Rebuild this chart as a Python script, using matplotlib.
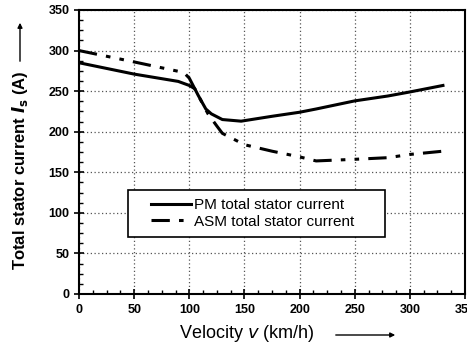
import matplotlib
matplotlib.use("Agg")
from matplotlib import pyplot as plt
from matplotlib.ticker import MultipleLocator
from matplotlib.patches import FancyArrowPatch, Rectangle

plt.rcParams['font.family'] = ['Liberation Sans', 'DejaVu Sans']

# PM motor, total stator current vs speed
pm_v = [0, 50, 90, 100, 105, 108, 115, 120, 130, 147, 175, 200, 215, 250, 280, 300, 330]
pm_i = [285, 271, 262, 257, 253, 245, 228, 222, 215, 213, 219, 224, 228, 238, 244, 249, 257]

# asynchronous motor
asm_v = [0, 50, 95, 100, 108, 117, 125, 130, 150, 175, 200, 215, 250, 280, 300, 330]
asm_i = [300, 286, 273, 266, 245, 222, 207, 198, 184, 176, 169, 164, 166, 168, 172, 176]

fig = plt.figure(figsize=(4.67, 3.48), dpi=100)
ax = fig.add_axes([79/467, 1 - 294/348, 386/467, 284/348])

ax.plot(pm_v, pm_i, color='black', lw=2.2, label='PM total stator current')
ax.plot(asm_v, asm_i, color='black', lw=2.2, dashes=(6, 3, 1.5, 3, 1.5, 3),
        label='ASM total stator current')

ax.set_xlim(0, 350)
ax.set_ylim(0, 350)
ax.xaxis.set_major_locator(MultipleLocator(50))
ax.yaxis.set_major_locator(MultipleLocator(50))
ax.xaxis.set_minor_locator(MultipleLocator(12.5))
ax.yaxis.set_minor_locator(MultipleLocator(12.5))
ax.tick_params(which='major', direction='inout', length=7, width=1.2, labelsize=9)
ax.tick_params(which='minor', direction='in', length=3, width=1)
for lab in ax.get_xticklabels() + ax.get_yticklabels():
    lab.set_fontweight('bold')
ax.grid(True, which='major', ls=(0, (1, 2)), color='#555555', lw=0.9)
for s in ax.spines.values():
    s.set_linewidth(1.5)

# legend box drawn by hand, entries placed inside it
ax.add_patch(Rectangle((0.127, 0.2), 0.666, 0.166, transform=ax.transAxes,
                       facecolor='white', edgecolor='black', lw=1.2, zorder=3))
leg = ax.legend(loc='center left', bbox_to_anchor=(0.186, 0.283), frameon=False,
                fontsize=11, handlelength=2.6, borderpad=0, borderaxespad=0,
                labelspacing=0.15, handletextpad=0.2)
leg.set_zorder(4)

fig.text(247/467, 1 - 333/348, 'Velocity $\\mathit{v}$ (km/h)', ha='center', va='center', fontsize=13)
fig.add_artist(FancyArrowPatch((333/467, 1 - 335/348), (398/467, 1 - 335/348),
               transform=fig.transFigure, arrowstyle='-|>', mutation_scale=7, lw=1, color='black'))

fig.text(20/467, 1 - 170/348, 'Total stator current $\\mathbfit{I}_{\\mathbf{s}}$ (A)', rotation=90,
         ha='center', va='center', fontsize=12, fontweight='bold')
fig.add_artist(FancyArrowPatch((20/467, 1 - 64/348), (20/467, 1 - 20/348),
               transform=fig.transFigure, arrowstyle='-|>', mutation_scale=7, lw=1, color='black'))

fig.savefig('out.png', dpi=100)
